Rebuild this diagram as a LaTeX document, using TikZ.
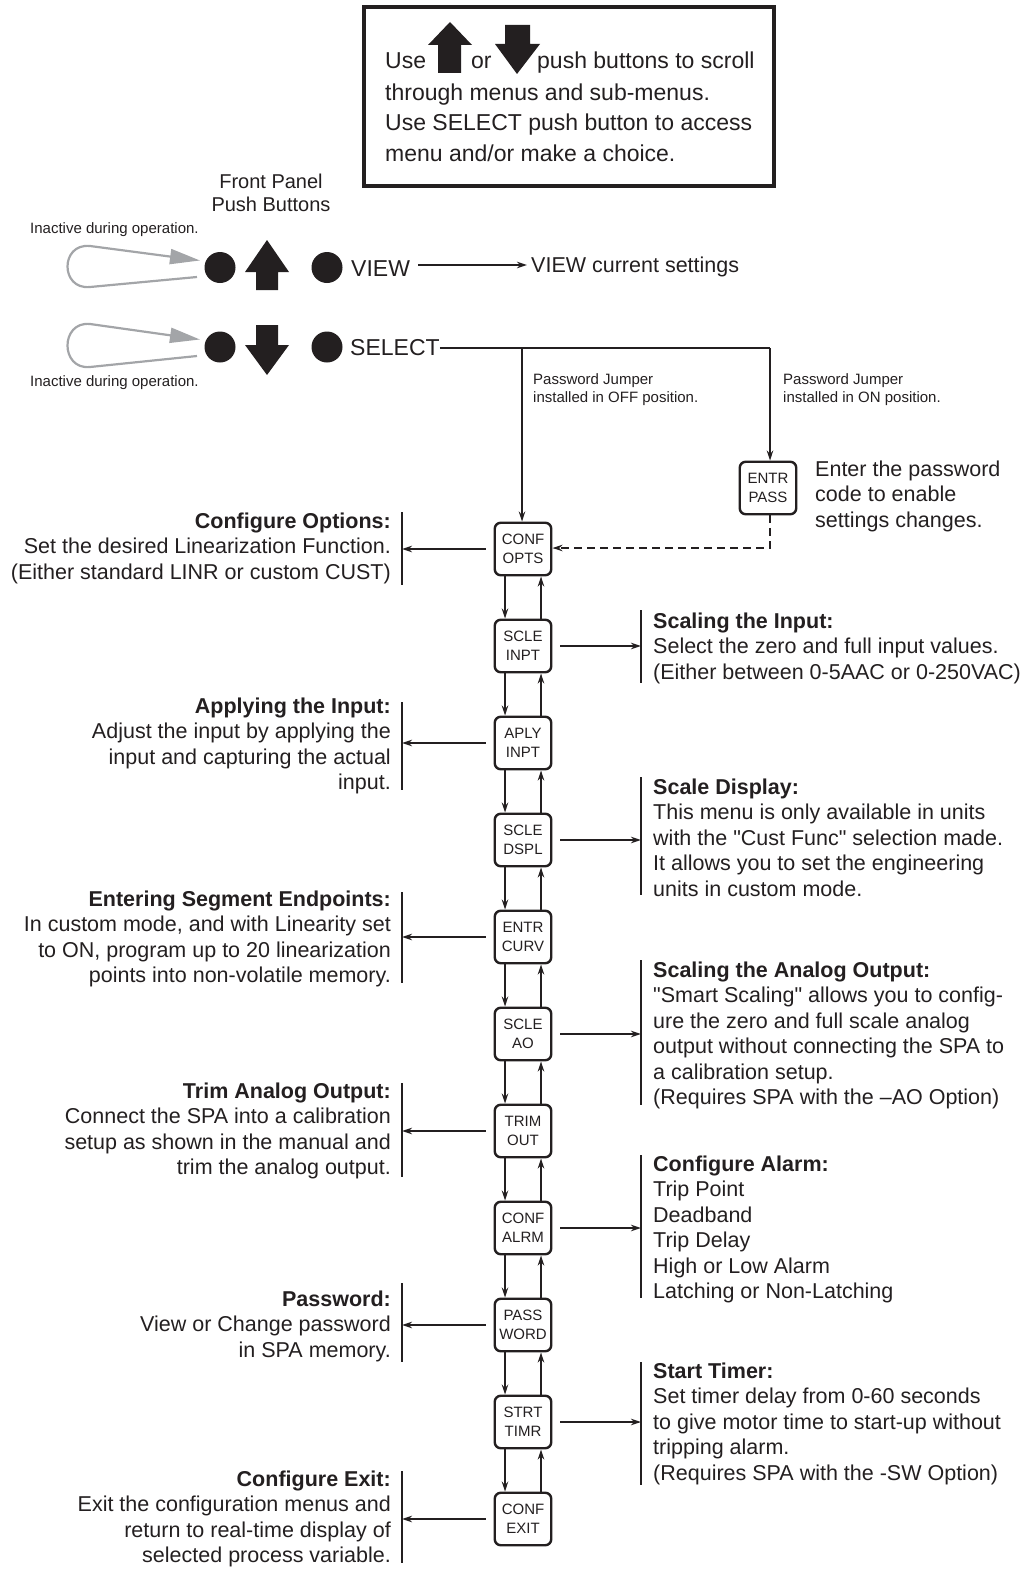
\documentclass[tikz,border=0pt]{standalone}
\usepackage{fontspec}
\setmainfont{Liberation Sans}
\usetikzlibrary{arrows.meta}

\definecolor{ink}{HTML}{231F20}
\definecolor{loopgray}{HTML}{A3A5A8}

\newcommand\bodyfont{\fontsize{21.5}{25.5}\selectfont}
\newcommand\notefont{\fontsize{23}{30.7}\selectfont}
\newcommand\smallfont{\fontsize{15}{18}\selectfont}
% straight double quote, set as a glyph so the TeX ligature mapping leaves it alone
\newcommand\sq{\XeTeXglyph\numexpr\XeTeXcharglyph"22\relax}

\begin{document}
\begin{tikzpicture}[x=1pt,y=-1pt,
  every node/.style={text=ink},
  menu/.style={draw=ink, line width=2.4pt, rounded corners=6pt,
    minimum width=56.5pt, minimum height=52.5pt, inner sep=0pt,
    align=center, font=\fontsize{15}{19}\selectfont},
  conn/.style={draw=ink, line width=2pt, -{Stealth[length=10pt,width=6.5pt]}},
  wire/.style={draw=ink, line width=2pt},
  dashconn/.style={conn, dash pattern=on 8pt off 5pt},
  bracket/.style={draw=ink, line width=2.5pt},
  lefttext/.style={anchor=base east, inner sep=0pt, font=\bodyfont},
  righttext/.style={anchor=base west, inner sep=0pt, font=\bodyfont},
  btn/.style={circle, fill=ink, minimum size=31pt, inner sep=0pt},
  blockarrow/.style={fill=ink},
  grayloop/.style={draw=loopgray, line width=2.2pt, -{Triangle[length=30pt,width=15pt]}},
]
\useasboundingbox (0,0) rectangle (1031,1571);

% ---------------- instruction box ----------------
\node[draw=ink, line width=4pt, minimum width=410pt, minimum height=179pt, inner sep=0pt] (note) at (569,96.5) {};
\node[anchor=base west, inner sep=0pt, font=\notefont] (use) at (385,69) {Use};
\node[anchor=base west, inner sep=0pt, font=\notefont] (or) at (471,69) {or};
\node[anchor=base west, inner sep=0pt, font=\notefont] (pb) at (537,69) {push buttons to scroll};
\fill[blockarrow] (450,22) -- (472,45) -- (461,45) -- (461,73) -- (438,73) -- (438,45) -- (428,45) -- cycle;
\fill[blockarrow] (517,74) -- (540,44) -- (530,44) -- (530,25) -- (505,25) -- (505,44) -- (495,44) -- cycle;
\node[anchor=base west, inner sep=0pt, font=\notefont, align=left] (notebody) at (385,100)
  {\begin{tabular}[t]{@{}l@{}}through menus and sub-menus.\\Use SELECT push button to access\\menu and/or make a choice.\end{tabular}};

% ---------------- front panel push buttons ----------------
\node[anchor=base, inner sep=0pt, font=\fontsize{20}{23}\selectfont] (fp) at (271,188)
  {\begin{tabular}[t]{@{}c@{}}Front Panel\\Push Buttons\end{tabular}};
\node[anchor=base west, inner sep=0pt, font=\smallfont] (ina1) at (30,233) {Inactive during operation.};
\node[anchor=base west, inner sep=0pt, font=\smallfont] (ina2) at (30,386) {Inactive during operation.};

% row with the up button
\node[btn] (b1) at (220,267.5) {};
\fill[blockarrow] (267,240) -- (289,272) -- (278,272) -- (278,290) -- (256,290) -- (256,272) -- (245,272) -- cycle;
\node[btn] (b2) at (327,267.5) {};
\node[anchor=base west, inner sep=0pt, font=\fontsize{23}{26}\selectfont] (viewtxt) at (351,276) {VIEW};
\node[anchor=base west, inner sep=0pt, font=\bodyfont] (viewcur) at (531,272) {VIEW current settings};
\coordinate (va) at (418,265);
\draw[conn] (va) -- ([xshift=-4pt]viewcur.west |- va);
\draw[grayloop] (197,277) -- (90,287) .. controls (60,290) and (60,243) .. (90,246) -- (200,260.5);

% row with the down button
\node[btn] (b3) at (220,347) {};
\fill[blockarrow] (267,375) -- (289,345) -- (278,345) -- (278,325) -- (256,325) -- (256,345) -- (245,345) -- cycle;
\node[btn] (b4) at (327,347) {};
\node[anchor=base west, inner sep=0pt, font=\fontsize{23}{26}\selectfont] (seltxt) at (350,355) {SELECT};
\draw[grayloop] (197,356) -- (90,367) .. controls (60,370) and (60,321) .. (90,324) -- (200,339.5);

% ---------------- select branches ----------------
\coordinate (j1) at (522,348);
\coordinate (j2) at (770,348);
\draw[wire] (seltxt.east |- j1) -- (j2);
\node[anchor=base west, inner sep=0pt, font=\smallfont] (offtxt) at (533,384)
  {\begin{tabular}[t]{@{}l@{}}Password Jumper\\installed in OFF position.\end{tabular}};
\node[anchor=base west, inner sep=0pt, font=\smallfont] (ontxt) at (783,384)
  {\begin{tabular}[t]{@{}l@{}}Password Jumper\\installed in ON position.\end{tabular}};

\node[menu] (ep) at (768,488) {ENTR\\PASS};
\node[righttext] (eptxt) at (815,476)
  {\begin{tabular}[t]{@{}l@{}}Enter the password\\code to enable\\settings changes.\end{tabular}};

% ---------------- menu column ----------------
\node[menu] (m1)  at (523,549)  {CONF\\OPTS};
\node[menu] (m2)  at (523,646)  {SCLE\\INPT};
\node[menu] (m3)  at (523,743)  {APLY\\INPT};
\node[menu] (m4)  at (523,840)  {SCLE\\DSPL};
\node[menu] (m5)  at (523,937)  {ENTR\\CURV};
\node[menu] (m6)  at (523,1034) {SCLE\\AO};
\node[menu] (m7)  at (523,1131) {TRIM\\OUT};
\node[menu] (m8)  at (523,1228) {CONF\\ALRM};
\node[menu] (m9)  at (523,1325) {PASS\\WORD};
\node[menu] (m10) at (523,1422) {STRT\\TIMR};
\node[menu] (m11) at (523,1519) {CONF\\EXIT};

\draw[conn] (j1) -- (m1.north -| j1);
\draw[conn] (j2) -- (ep.north -| j2);
\coordinate (dk) at (770,548);
\draw[dashconn] (ep.south -| dk) -- (dk) -- (m1.east |- dk);

\foreach \a/\b in {m1/m2,m2/m3,m3/m4,m4/m5,m5/m6,m6/m7,m7/m8,m8/m9,m9/m10,m10/m11}{
  \draw[conn] ([xshift=-18pt]\a.south) -- ([xshift=-18pt]\b.north);
  \draw[conn] ([xshift=18pt]\b.north) -- ([xshift=18pt]\a.south);
}

% ---------------- left descriptions ----------------
\draw[bracket] (402,512) -- (402,585);
\coordinate (l1) at (402,549);
\draw[conn, shorten <=8pt] (m1.west) -- (l1);
\node[lefttext] (t1) at (391,528)
  {\begin{tabular}[t]{@{}r@{}}\textbf{Configure Options:}\\Set the desired Linearization Function.\\(Either standard LINR or custom CUST)\end{tabular}};

\draw[bracket] (402,702) -- (402,790);
\coordinate (l3) at (402,743);
\draw[conn, shorten <=8pt] (m3.west) -- (l3);
\node[lefttext] (t3) at (391,713)
  {\begin{tabular}[t]{@{}r@{}}\textbf{Applying the Input:}\\Adjust the input by applying the\\input and capturing the actual\\input.\end{tabular}};

\draw[bracket] (402,892) -- (402,983);
\coordinate (l5) at (402,937);
\draw[conn, shorten <=8pt] (m5.west) -- (l5);
\node[lefttext] (t5) at (391,906)
  {\begin{tabular}[t]{@{}r@{}}\textbf{Entering Segment Endpoints:}\\In custom mode, and with Linearity set~\\to ON, program up to 20 linearization\\points into non-volatile memory.\end{tabular}};

\draw[bracket] (402,1083) -- (402,1177);
\coordinate (l7) at (402,1131);
\draw[conn, shorten <=8pt] (m7.west) -- (l7);
\node[lefttext] (t7) at (391,1098)
  {\begin{tabular}[t]{@{}r@{}}\textbf{Trim Analog Output:}\\Connect the SPA into a calibration\\setup as shown in the manual and\\trim the analog output.\end{tabular}};

\draw[bracket] (402,1283) -- (402,1362);
\coordinate (l9) at (402,1325);
\draw[conn, shorten <=8pt] (m9.west) -- (l9);
\node[lefttext] (t9) at (391,1306)
  {\begin{tabular}[t]{@{}r@{}}\textbf{Password:}\\View or Change password\\in SPA memory.\end{tabular}};

\draw[bracket] (402,1471) -- (402,1563);
\coordinate (l11) at (402,1519);
\draw[conn, shorten <=8pt] (m11.west) -- (l11);
\node[lefttext] (t11) at (391,1486)
  {\begin{tabular}[t]{@{}r@{}}\textbf{Configure Exit:}\\Exit the configuration menus and\\return to real-time display of\\selected process variable.\end{tabular}};

% ---------------- right descriptions ----------------
\draw[bracket] (641,610) -- (641,683);
\coordinate (r2) at (641,646);
\draw[conn, shorten <=8pt] (m2.east) -- (r2);
\node[righttext] (t2) at (653,628)
  {\begin{tabular}[t]{@{}l@{}}\textbf{Scaling the Input:}\\Select the zero and full input values.\\(Either between 0-5AAC or 0-250VAC)\end{tabular}};

\draw[bracket] (641,777) -- (641,895);
\coordinate (r4) at (641,840);
\draw[conn, shorten <=8pt] (m4.east) -- (r4);
\node[righttext] (t4) at (653,794)
  {\begin{tabular}[t]{@{}l@{}}\textbf{Scale Display:}\\This menu is only available in units\\with the \sq Cust Func\sq{} selection made.\\It allows you to set the engineering\\units in custom mode.\end{tabular}};

\draw[bracket] (641,960) -- (641,1105);
\coordinate (r6) at (641,1034);
\draw[conn, shorten <=8pt] (m6.east) -- (r6);
\node[righttext] (t6) at (653,977)
  {\begin{tabular}[t]{@{}l@{}}\textbf{Scaling the Analog Output:}\\\sq Smart Scaling\sq{} allows you to config-\\ure the zero and full scale analog\\output without connecting the SPA to\\a calibration setup.\\(Requires SPA with the --AO Option)\end{tabular}};

\draw[bracket] (641,1155) -- (641,1298);
\coordinate (r8) at (641,1228);
\draw[conn, shorten <=8pt] (m8.east) -- (r8);
\node[righttext] (t8) at (653,1171)
  {\begin{tabular}[t]{@{}l@{}}\textbf{Configure Alarm:}\\Trip Point\\Deadband\\Trip Delay\\High or Low Alarm\\Latching or Non-Latching\end{tabular}};

\draw[bracket] (641,1362) -- (641,1485);
\coordinate (r10) at (641,1422);
\draw[conn, shorten <=8pt] (m10.east) -- (r10);
\node[righttext] (t10) at (653,1378)
  {\begin{tabular}[t]{@{}l@{}}\textbf{Start Timer:}\\Set timer delay from 0-60 seconds\\to give motor time to start-up without\\tripping alarm.\\(Requires SPA with the -SW Option)\end{tabular}};

\end{tikzpicture}
\end{document}
